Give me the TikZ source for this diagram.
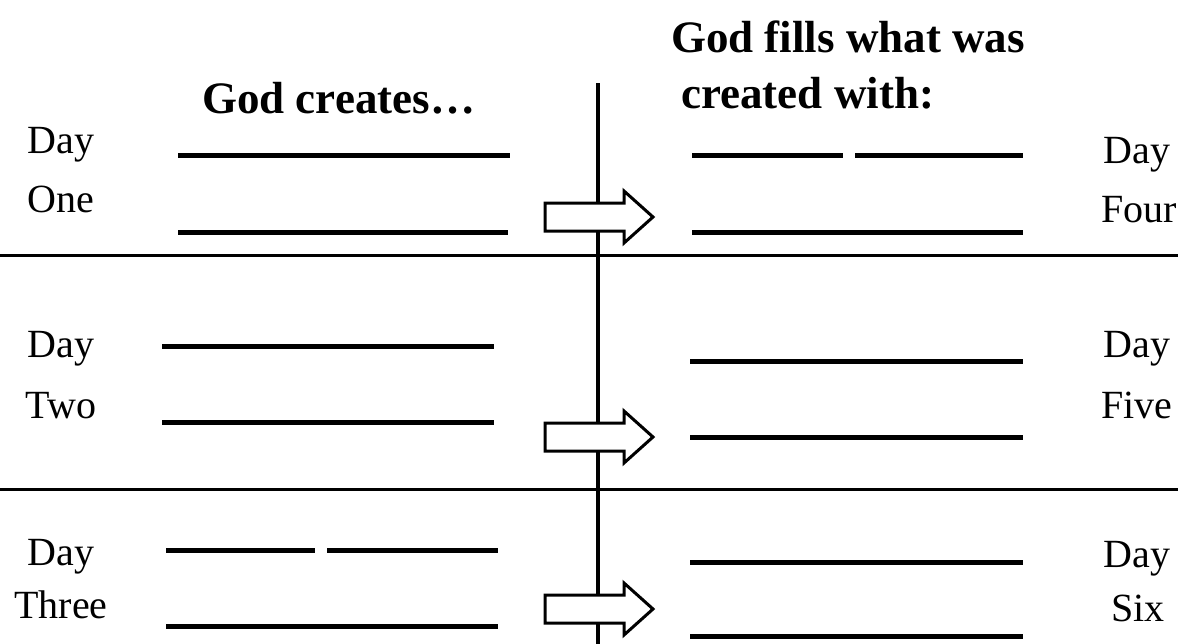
\documentclass[tikz,border=0pt]{standalone}
\usepackage{fontspec}
\setmainfont{Liberation Serif}
\begin{document}
\begin{tikzpicture}[x=1pt,y=-1pt,
  blank/.style={line width=5pt},
  divider/.style={line width=3pt},
  spine/.style={line width=4pt},
  fatarrow/.style={draw=black,fill=white,line width=3pt,line join=miter},
  daylabel/.style={anchor=base,inner sep=0pt,font=\fontsize{40}{40}\selectfont},
  title/.style={anchor=base west,inner sep=0pt,font=\fontsize{45}{45}\selectfont\bfseries}]
\useasboundingbox (0,0) rectangle (1185,643);
% structure lines
\coordinate (vtop) at (598,83);
\coordinate (vbot) at (598,650);
\draw[spine] (vtop) -- (vbot);
\coordinate (d1l) at (0,255); \coordinate (d1r) at (1178,255);
\coordinate (d2l) at (0,489); \coordinate (d2r) at (1178,489);
\draw[divider] (d1l) -- (d1r);
\draw[divider] (d2l) -- (d2r);
% titles
\node[title] (t1) at (202,113) {God creates…};
\node[title] (t2) at (671,52) {God fills what was};
\node[title] (t3) at (681,108) {created with:};
% left labels
\node[daylabel] (l1a) at (61,153) {Day};
\node[daylabel] (l1b) at (61,212) {One};
\node[daylabel] (l2a) at (61,357) {Day};
\node[daylabel] (l2b) at (61,418) {Two};
\node[daylabel] (l3a) at (61,565) {Day};
\node[daylabel] (l3b) at (61,618) {Three};
% right labels
\node[daylabel] (r1a) at (1137,163) {Day};
\node[daylabel] (r1b) at (1139,222) {Four};
\node[daylabel] (r2a) at (1137,357) {Day};
\node[daylabel] (r2b) at (1137,418) {Five};
\node[daylabel] (r3a) at (1137,567) {Day};
\node[daylabel] (r3b) at (1138,621) {Six};
% blanks row 1
\draw[blank] (178,155) -- (510,155);
\draw[blank] (178,232) -- (508,232);
\draw[blank] (692,155) -- (843,155);
\draw[blank] (855,155) -- (1023,155);
\draw[blank] (692,232) -- (1023,232);
% blanks row 2
\draw[blank] (162,346) -- (494,346);
\draw[blank] (162,422) -- (494,422);
\draw[blank] (690,361) -- (1023,361);
\draw[blank] (690,437) -- (1023,437);
% blanks row 3
\draw[blank] (166,550) -- (315,550);
\draw[blank] (327,550) -- (498,550);
\draw[blank] (166,626) -- (498,626);
\draw[blank] (690,562) -- (1023,562);
\draw[blank] (690,636) -- (1023,636);
% arrows
\foreach \cy/\nm in {217/a1,437/a2,609/a3}{
  \draw[fatarrow] (545,\cy-14) -- (624,\cy-14) -- (624,\cy-26) -- (653,\cy)
     -- (624,\cy+26) -- (624,\cy+14) -- (545,\cy+14) -- cycle;
}
\end{tikzpicture}
\end{document}
